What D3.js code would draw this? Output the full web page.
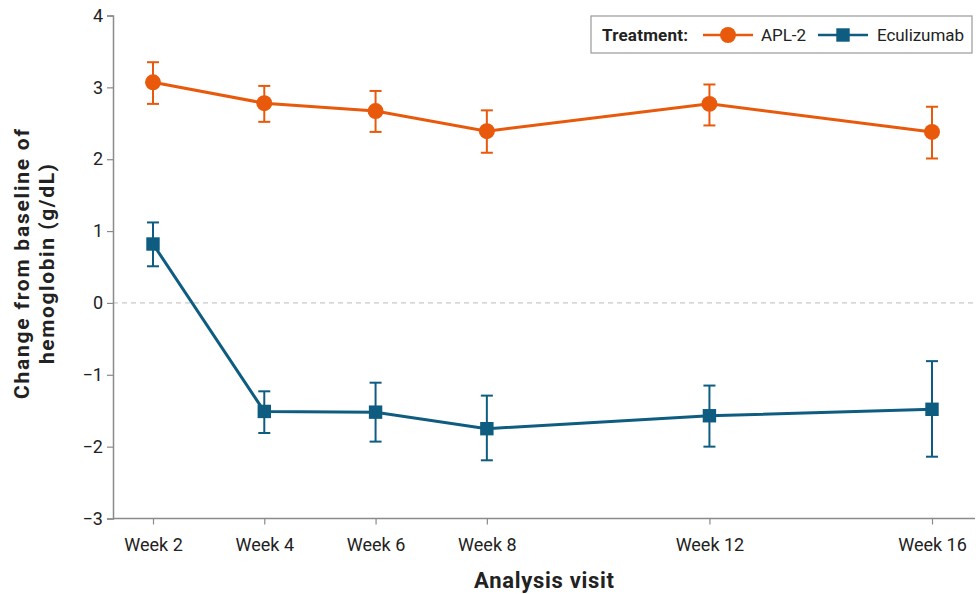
<!DOCTYPE html>
<html><head><meta charset="utf-8">
<script src="https://cdn.jsdelivr.net/npm/d3@7"></script>
<style>
body{margin:0;background:#fff;}
text{font-family:"Roboto","Liberation Sans",sans-serif;}
</style></head>
<body><svg id="c" width="976" height="594"></svg>
<script>
const weeks = [2, 4, 6, 8, 12, 16];
const tickLabels = ["Week 2","Week 4","Week 6","Week 8","Week 12","Week 16"];
const yTicks = [4,3,2,1,0,-1,-2,-3];
const aplMean = [3.07, 2.78, 2.67, 2.39, 2.77, 2.38];
const aplLow  = [2.77, 2.52, 2.38, 2.09, 2.47, 2.01];
const aplHigh = [3.35, 3.02, 2.95, 2.68, 3.04, 2.73];
const ecuMean = [0.82, -1.51, -1.52, -1.75, -1.57, -1.48];
const ecuLow  = [0.51, -1.81, -1.93, -2.19, -2.00, -2.14];
const ecuHigh = [1.12, -1.23, -1.11, -1.29, -1.15, -0.81];

const orange = "#E8590C", blue = "#0E5D80", axisCol = "#8a8a8a", txt = "#222";
const svg = d3.select("#c");
const x = d3.scaleLinear().domain([2,16]).range([153,932]);
const y = d3.scaleLinear().domain([-3,4]).range([518.5,15.5]);
const xLeft = 113, xRight = 975;

// zero line
svg.append("line").attr("x1",xLeft).attr("x2",xRight).attr("y1",y(0)).attr("y2",y(0))
  .attr("stroke","#bbb").attr("stroke-width",1).attr("stroke-dasharray","5,4");

// y axis
const ya = svg.append("g").attr("transform",`translate(${xLeft},0)`)
  .call(d3.axisLeft(y).tickValues(yTicks).tickSize(6).tickPadding(4).tickFormat(d=>d<0?"\u2212"+Math.abs(d):d));
ya.select(".domain").attr("stroke",axisCol).attr("stroke-width",1.5);
ya.selectAll(".tick line").attr("stroke",axisCol).attr("stroke-width",1.2);
ya.selectAll(".tick text").attr("fill",txt).style("font-size","18px").style("font-family","Roboto");

// x axis
const xa = svg.append("g").attr("transform",`translate(0,${y(-3)})`)
  .call(d3.axisBottom(x).tickValues(weeks).tickSize(6).tickPadding(14).tickFormat((d,i)=>tickLabels[i]));
xa.select(".domain").attr("d",`M${xLeft},0H${xRight}`).attr("stroke",axisCol).attr("stroke-width",1.5);
xa.selectAll(".tick line").attr("stroke",axisCol).attr("stroke-width",1.2);
xa.selectAll(".tick text").attr("fill",txt).style("font-size","18px").style("font-family","Roboto");

// axis titles
svg.append("text").attr("x",544).attr("y",588).attr("text-anchor","middle")
  .attr("fill",txt).style("font-size","22px").style("font-weight","bold").attr("textLength",140).text("Analysis visit");
const yt = svg.append("text").attr("transform","translate(0,264) rotate(-90)").attr("text-anchor","middle")
  .attr("fill",txt).style("font-size","21px").style("font-weight","bold");
yt.append("tspan").attr("x",0).attr("y",29).attr("textLength",270).text("Change from baseline of");
yt.append("tspan").attr("x",0).attr("y",54).attr("textLength",200).text("hemoglobin (g/dL)");

function series(mean, low, high, color, shape){
  const g = svg.append("g");
  const pts = weeks.map((w,i)=>({w, m:mean[i], lo:low[i], hi:high[i]}));
  g.append("path").datum(pts).attr("fill","none").attr("stroke",color).attr("stroke-width",3)
    .attr("d", d3.line().x(d=>x(d.w)).y(d=>y(d.m)));
  const eb = g.selectAll(".eb").data(pts).enter().append("g");
  eb.append("line").attr("x1",d=>x(d.w)).attr("x2",d=>x(d.w)).attr("y1",d=>y(d.lo)).attr("y2",d=>y(d.hi))
    .attr("stroke",color).attr("stroke-width",2);
  eb.append("line").attr("x1",d=>x(d.w)-6).attr("x2",d=>x(d.w)+6).attr("y1",d=>y(d.lo)).attr("y2",d=>y(d.lo))
    .attr("stroke",color).attr("stroke-width",2);
  eb.append("line").attr("x1",d=>x(d.w)-6).attr("x2",d=>x(d.w)+6).attr("y1",d=>y(d.hi)).attr("y2",d=>y(d.hi))
    .attr("stroke",color).attr("stroke-width",2);
  const sym = d3.symbol().type(shape==="circle"?d3.symbolCircle:d3.symbolSquare).size(shape==="circle"?200:180);
  g.selectAll(".pt").data(pts).enter().append("path")
    .attr("transform",d=>`translate(${x(d.w)},${y(d.m)})`).attr("d",sym).attr("fill",color);
}
series(aplMean, aplLow, aplHigh, orange, "circle");
series(ecuMean, ecuLow, ecuHigh, blue, "square");

// legend
const lg = svg.append("g");
lg.append("rect").attr("x",591).attr("y",16).attr("width",381).attr("height",37)
  .attr("fill","#fff").attr("stroke","#999").attr("stroke-width",1.2);
lg.append("text").attr("x",602).attr("y",41).attr("fill",txt).style("font-size","17px").style("font-weight","bold")
  .attr("textLength",86).text("Treatment:");
lg.append("line").attr("x1",703).attr("x2",753).attr("y1",35).attr("y2",35).attr("stroke",orange).attr("stroke-width",2.5);
lg.append("path").attr("transform","translate(728,35)").attr("d",d3.symbol().type(d3.symbolCircle).size(200)).attr("fill",orange);
lg.append("text").attr("x",761).attr("y",41).attr("fill",txt).style("font-size","17px").attr("textLength",45).text("APL-2");
lg.append("line").attr("x1",818).attr("x2",868).attr("y1",35).attr("y2",35).attr("stroke",blue).attr("stroke-width",2.5);
lg.append("path").attr("transform","translate(843,35)").attr("d",d3.symbol().type(d3.symbolSquare).size(180)).attr("fill",blue);
lg.append("text").attr("x",877).attr("y",41).attr("fill",txt).style("font-size","17px").attr("textLength",87).text("Eculizumab");
</script></body></html>
